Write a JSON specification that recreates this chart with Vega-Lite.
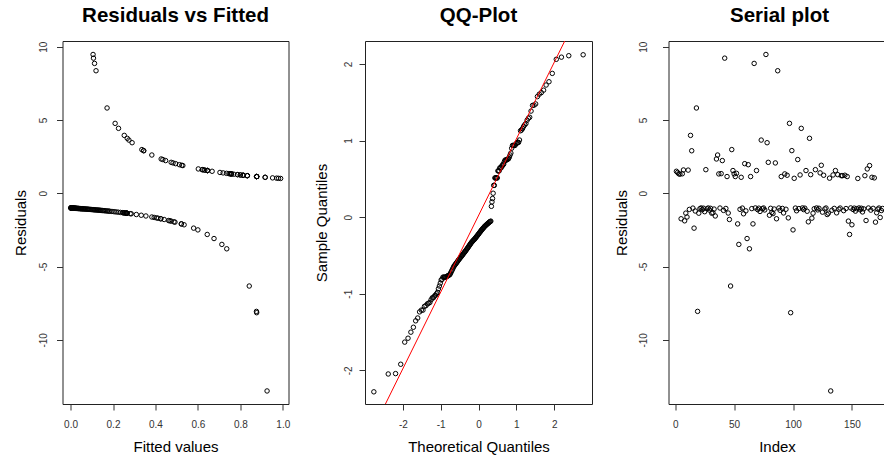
{
"$schema": "https://vega.github.io/schema/vega-lite/v6.json",
"padding": {"left": 12.5, "top": 5, "right": 0, "bottom": 0},
"background": "white",
"spacing": 76.5,
"bounds": "flush",
"config": {
  "font": "Liberation Sans",
  "view": {"stroke": "#222", "strokeWidth": 1},
  "axis": {"domain": false, "grid": false, "ticks": true, "tickSize": 6, "tickColor": "#333", "tickWidth": 1, "labelFontSize": 10, "labelColor": "#333", "titleFontSize": 15, "titleFontWeight": "normal", "titleColor": "#000", "labelFont": "Liberation Sans", "titleFont": "Liberation Sans", "labelOverlap": false, "labelFlush": false},
  "title": {"fontSize": 20.5, "fontWeight": "bold", "font": "Liberation Sans", "color": "#000", "anchor": "middle", "baseline": "alphabetic", "offset": 15, "frame": "group"}
},
"datasets": {
"res": [
{"i":1,"f":0.667,"r":1.5},{"i":2,"f":0.704,"r":1.42},{"i":3,"f":0.752,"r":1.33},{"i":4,"f":0.769,"r":1.3},{"i":5,"f":0.425,"r":-1.74},{"i":6,"f":0.752,"r":1.33},{"i":7,"f":0.629,"r":1.59},{"i":8,"f":0.468,"r":-1.88},{"i":9,"f":0.263,"r":-1.356},{"i":10,"f":0.383,"r":-1.62},
{"i":11,"f":0.633,"r":1.58},{"i":12,"f":0.093,"r":-1.102},{"i":13,"f":0.253,"r":3.95},{"i":14,"f":0.345,"r":2.9},{"i":15,"f":0.013,"r":-1.013},{"i":16,"f":0.58,"r":-2.38},{"i":17,"f":0.174,"r":-1.21},{"i":18,"f":0.172,"r":5.82},{"i":19,"f":0.876,"r":-8.06},{"i":20,"f":0.265,"r":-1.36},
{"i":21,"f":0.048,"r":-1.05},{"i":22,"f":0.002,"r":-1.002},{"i":23,"f":0.109,"r":-1.122},{"i":24,"f":0.02,"r":-1.02},{"i":25,"f":0.205,"r":-1.258},{"i":26,"f":0.621,"r":1.61},{"i":27,"f":0.058,"r":-1.062},{"i":28,"f":0.004,"r":-1.004},{"i":29,"f":0.127,"r":-1.145},{"i":30,"f":0.027,"r":-1.028},
{"i":31,"f":0.265,"r":-1.36},{"i":32,"f":0.245,"r":-1.325},{"i":33,"f":0.072,"r":-1.078},{"i":34,"f":0.355,"r":-1.55},{"i":35,"f":0.427,"r":2.34},{"i":36,"f":0.383,"r":2.61},{"i":37,"f":0.758,"r":1.32},{"i":38,"f":0.007,"r":-1.007},{"i":39,"f":0.746,"r":1.34},{"i":40,"f":0.448,"r":2.23},
{"i":41,"f":0.145,"r":-1.17},{"i":42,"f":0.108,"r":9.22},{"i":43,"f":0.036,"r":-1.037},{"i":44,"f":0.877,"r":1.14},{"i":45,"f":0.259,"r":-1.349},{"i":46,"f":0.441,"r":-1.79},{"i":47,"f":0.842,"r":-6.33},{"i":48,"f":0.336,"r":2.98},{"i":49,"f":0.645,"r":1.55},{"i":50,"f":0.758,"r":1.32},
{"i":51,"f":0.877,"r":1.14},{"i":52,"f":0.735,"r":1.36},{"i":53,"f":0.522,"r":-2.09},{"i":54,"f":0.713,"r":-3.49},{"i":55,"f":0.088,"r":-1.097},{"i":56,"f":0.917,"r":1.09},{"i":57,"f":0.012,"r":-1.012},{"i":58,"f":0.286,"r":-1.4},{"i":59,"f":0.495,"r":2.02},{"i":60,"f":0.168,"r":-1.202},
{"i":61,"f":0.676,"r":-3.09},{"i":62,"f":0.513,"r":1.95},{"i":63,"f":0.736,"r":-3.79},{"i":64,"f":0.877,"r":1.14},{"i":65,"f":0.045,"r":-1.047},{"i":66,"f":0.522,"r":-2.09},{"i":67,"f":0.113,"r":8.86},{"i":68,"f":0.002,"r":-1.002},{"i":69,"f":0.645,"r":1.55},{"i":70,"f":0.105,"r":-1.117},
{"i":71,"f":0.018,"r":-1.018},{"i":72,"f":0.195,"r":-1.242},{"i":73,"f":0.275,"r":3.63},{"i":74,"f":0.055,"r":-1.058},{"i":75,"f":0.004,"r":-1.004},{"i":76,"f":0.122,"r":-1.139},{"i":77,"f":0.106,"r":9.47},{"i":78,"f":0.29,"r":3.45},{"i":79,"f":0.474,"r":2.11},{"i":80,"f":0.333,"r":-1.5},
{"i":81,"f":0.025,"r":-1.026},{"i":82,"f":0.235,"r":-1.307},{"i":83,"f":0.281,"r":-1.39},{"i":84,"f":0.069,"r":-1.074},{"i":85,"f":0.483,"r":2.07},{"i":86,"f":0.425,"r":-1.74},{"i":87,"f":0.12,"r":8.36},{"i":88,"f":0.006,"r":-1.006},{"i":89,"f":0.14,"r":-1.163},{"i":90,"f":0.877,"r":1.14},
{"i":91,"f":0.034,"r":-1.035},{"i":92,"f":0.255,"r":-1.343},{"i":93,"f":0.758,"r":1.32},{"i":94,"f":0.084,"r":-1.092},{"i":95,"f":0.813,"r":1.23},{"i":96,"f":0.405,"r":-1.68},{"i":97,"f":0.21,"r":4.77},{"i":98,"f":0.877,"r":-8.15},{"i":99,"f":0.344,"r":2.91},{"i":100,"f":0.6,"r":-2.5},
{"i":101,"f":0.98,"r":1.02},{"i":102,"f":0.011,"r":-1.011},{"i":103,"f":0.162,"r":-1.194},{"i":104,"f":0.435,"r":2.3},{"i":105,"f":0.043,"r":-1.045},{"i":106,"f":0.8,"r":1.25},{"i":107,"f":0.226,"r":4.43},{"i":108,"f":0.002,"r":-1.002},{"i":109,"f":0.101,"r":-1.112},{"i":110,"f":0.016,"r":-1.016},
{"i":111,"f":0.645,"r":1.55},{"i":112,"f":0.185,"r":-1.227},{"i":113,"f":0.487,"r":-1.95},{"i":114,"f":0.267,"r":3.75},{"i":115,"f":0.787,"r":1.27},{"i":116,"f":0.412,"r":-1.7},{"i":117,"f":0.265,"r":-1.36},{"i":118,"f":0.052,"r":-1.055},{"i":119,"f":0.621,"r":1.61},{"i":120,"f":0.003,"r":-1.003},
{"i":121,"f":0.117,"r":-1.133},{"i":122,"f":0.023,"r":-1.024},{"i":123,"f":0.719,"r":1.39},{"i":124,"f":0.524,"r":1.91},{"i":125,"f":0.224,"r":-1.289},{"i":126,"f":0.813,"r":1.23},{"i":127,"f":0.065,"r":-1.07},{"i":128,"f":0.006,"r":-1.006},{"i":129,"f":0.31,"r":-1.45},{"i":130,"f":0.265,"r":-1.36},
{"i":131,"f":0.971,"r":1.03},{"i":132,"f":0.926,"r":-13.49},{"i":133,"f":0.136,"r":-1.157},{"i":134,"f":0.8,"r":1.25},{"i":135,"f":0.032,"r":-1.033},{"i":136,"f":0.645,"r":1.55},{"i":137,"f":0.252,"r":-1.337},{"i":138,"f":0.787,"r":1.27},{"i":139,"f":0.08,"r":-1.087},{"i":140,"f":0.009,"r":-1.009},
{"i":141,"f":0.833,"r":1.2},{"i":142,"f":0.833,"r":1.2},{"i":143,"f":0.157,"r":-1.186},{"i":144,"f":0.813,"r":1.23},{"i":145,"f":0.04,"r":-1.042},{"i":146,"f":0.877,"r":1.14},{"i":147,"f":0.474,"r":-1.9},{"i":148,"f":0.644,"r":-2.81},{"i":149,"f":0.001,"r":-1.001},{"i":150,"f":0.535,"r":-2.15},
{"i":151,"f":0.097,"r":-1.107},{"i":152,"f":0.015,"r":-1.015},{"i":153,"f":0.18,"r":-1.219},{"i":154,"f":0.049,"r":-1.052},{"i":155,"f":0.99,"r":1.01},{"i":156,"f":0.003,"r":-1.003},{"i":157,"f":0.113,"r":-1.128},{"i":158,"f":0.022,"r":-1.022},{"i":159,"f":0.214,"r":-1.273},{"i":160,"f":0.061,"r":-1.065},
{"i":161,"f":0.833,"r":1.2},{"i":162,"f":0.462,"r":-1.86},{"i":163,"f":0.602,"r":1.66},{"i":164,"f":0.005,"r":-1.005},{"i":165,"f":0.529,"r":1.89},{"i":166,"f":0.131,"r":-1.151},{"i":167,"f":0.917,"r":1.09},{"i":168,"f":0.029,"r":-1.03},{"i":169,"f":0.952,"r":1.05},{"i":170,"f":0.492,"r":-1.97},
{"i":171,"f":0.249,"r":-1.331},{"i":172,"f":0.077,"r":-1.083},{"i":173,"f":0.008,"r":-1.008},{"i":174,"f":0.394,"r":-1.65},{"i":175,"f":0.151,"r":-1.178},{"i":176,"f":0.038,"r":-1.04}
],
"qq": [
{"t":-2.766,"s":-2.281},{"t":-2.386,"s":-2.048},{"t":-2.192,"s":-2.043},{"t":-2.056,"s":-1.921},{"t":-1.95,"s":-1.632},{"t":-1.863,"s":-1.581},{"t":-1.787,"s":-1.502},{"t":-1.721,"s":-1.438},{"t":-1.661,"s":-1.354},{"t":-1.607,"s":-1.317},
{"t":-1.557,"s":-1.237},{"t":-1.511,"s":-1.214},{"t":-1.468,"s":-1.214},{"t":-1.428,"s":-1.165},{"t":-1.389,"s":-1.156},{"t":-1.353,"s":-1.133},{"t":-1.318,"s":-1.124},{"t":-1.285,"s":-1.114},{"t":-1.253,"s":-1.079},{"t":-1.222,"s":-1.053},
{"t":-1.193,"s":-1.053},{"t":-1.164,"s":-1.03},{"t":-1.137,"s":-1.019},{"t":-1.11,"s":-1.001},{"t":-1.084,"s":-0.982},{"t":-1.059,"s":-0.936},{"t":-1.034,"s":-0.9},{"t":-1.01,"s":-0.862},{"t":-0.987,"s":-0.82},{"t":-0.964,"s":-0.812},
{"t":-0.941,"s":-0.784},{"t":-0.919,"s":-0.784},{"t":-0.898,"s":-0.784},{"t":-0.876,"s":-0.784},{"t":-0.856,"s":-0.78},{"t":-0.835,"s":-0.774},{"t":-0.815,"s":-0.768},{"t":-0.796,"s":-0.762},{"t":-0.776,"s":-0.756},{"t":-0.757,"s":-0.75},
{"t":-0.738,"s":-0.732},{"t":-0.72,"s":-0.713},{"t":-0.702,"s":-0.695},{"t":-0.683,"s":-0.677},{"t":-0.666,"s":-0.658},{"t":-0.648,"s":-0.64},{"t":-0.63,"s":-0.629},{"t":-0.613,"s":-0.618},{"t":-0.596,"s":-0.606},{"t":-0.579,"s":-0.595},
{"t":-0.562,"s":-0.584},{"t":-0.546,"s":-0.572},{"t":-0.529,"s":-0.561},{"t":-0.513,"s":-0.55},{"t":-0.497,"s":-0.54},{"t":-0.481,"s":-0.53},{"t":-0.465,"s":-0.52},{"t":-0.449,"s":-0.51},{"t":-0.433,"s":-0.5},{"t":-0.418,"s":-0.49},
{"t":-0.402,"s":-0.48},{"t":-0.387,"s":-0.47},{"t":-0.371,"s":-0.46},{"t":-0.356,"s":-0.45},{"t":-0.341,"s":-0.44},{"t":-0.326,"s":-0.43},{"t":-0.311,"s":-0.42},{"t":-0.296,"s":-0.409},{"t":-0.281,"s":-0.399},{"t":-0.266,"s":-0.388},
{"t":-0.252,"s":-0.377},{"t":-0.237,"s":-0.367},{"t":-0.222,"s":-0.356},{"t":-0.208,"s":-0.346},{"t":-0.193,"s":-0.335},{"t":-0.179,"s":-0.327},{"t":-0.165,"s":-0.319},{"t":-0.15,"s":-0.311},{"t":-0.136,"s":-0.303},{"t":-0.121,"s":-0.296},
{"t":-0.107,"s":-0.288},{"t":-0.093,"s":-0.28},{"t":-0.078,"s":-0.271},{"t":-0.064,"s":-0.262},{"t":-0.05,"s":-0.253},{"t":-0.036,"s":-0.244},{"t":-0.021,"s":-0.235},{"t":-0.007,"s":-0.226},{"t":0.007,"s":-0.217},{"t":0.021,"s":-0.207},
{"t":0.036,"s":-0.198},{"t":0.05,"s":-0.189},{"t":0.064,"s":-0.179},{"t":0.078,"s":-0.17},{"t":0.093,"s":-0.162},{"t":0.107,"s":-0.153},{"t":0.121,"s":-0.145},{"t":0.136,"s":-0.137},{"t":0.15,"s":-0.128},{"t":0.165,"s":-0.12},
{"t":0.179,"s":-0.113},{"t":0.193,"s":-0.107},{"t":0.208,"s":-0.1},{"t":0.222,"s":-0.094},{"t":0.237,"s":-0.087},{"t":0.252,"s":-0.081},{"t":0.266,"s":-0.075},{"t":0.281,"s":-0.068},{"t":0.296,"s":-0.062},{"t":0.311,"s":-0.057},
{"t":0.326,"s":-0.052},{"t":0.341,"s":0.141},{"t":0.356,"s":0.199},{"t":0.371,"s":0.243},{"t":0.387,"s":0.312},{"t":0.402,"s":0.415},{"t":0.418,"s":0.415},{"t":0.433,"s":0.512},{"t":0.449,"s":0.512},{"t":0.465,"s":0.512},
{"t":0.481,"s":0.512},{"t":0.497,"s":0.512},{"t":0.513,"s":0.604},{"t":0.529,"s":0.604},{"t":0.546,"s":0.604},{"t":0.562,"s":0.643},{"t":0.579,"s":0.643},{"t":0.596,"s":0.643},{"t":0.613,"s":0.668},{"t":0.63,"s":0.668},
{"t":0.648,"s":0.691},{"t":0.666,"s":0.691},{"t":0.683,"s":0.724},{"t":0.702,"s":0.745},{"t":0.72,"s":0.745},{"t":0.738,"s":0.745},{"t":0.757,"s":0.755},{"t":0.776,"s":0.755},{"t":0.796,"s":0.765},{"t":0.815,"s":0.784},
{"t":0.835,"s":0.812},{"t":0.856,"s":0.837},{"t":0.876,"s":0.9},{"t":0.898,"s":0.936},{"t":0.919,"s":0.936},{"t":0.941,"s":0.936},{"t":0.964,"s":0.936},{"t":0.987,"s":0.956},{"t":1.01,"s":0.963},{"t":1.034,"s":0.976},
{"t":1.059,"s":0.976},{"t":1.084,"s":1.007},{"t":1.11,"s":1.128},{"t":1.137,"s":1.138},{"t":1.164,"s":1.156},{"t":1.193,"s":1.186},{"t":1.222,"s":1.206},{"t":1.253,"s":1.222},{"t":1.285,"s":1.266},{"t":1.318,"s":1.291},
{"t":1.353,"s":1.304},{"t":1.389,"s":1.385},{"t":1.428,"s":1.459},{"t":1.468,"s":1.462},{"t":1.511,"s":1.478},{"t":1.557,"s":1.574},{"t":1.607,"s":1.606},{"t":1.661,"s":1.626},{"t":1.721,"s":1.658},{"t":1.787,"s":1.725},
{"t":1.863,"s":1.768},{"t":1.95,"s":1.877},{"t":2.056,"s":2.061},{"t":2.192,"s":2.089},{"t":2.386,"s":2.108},{"t":2.766,"s":2.12}
],
"qline": [{"t":-3,"s":-2.98},{"t":3,"s":3.02}]
},
"hconcat": [
{
  "width": 226, "height": 363,
  "title": {"text": "Residuals vs Fitted"},
  "data": {"name": "res"},
  "mark": {"type": "point", "shape": "circle", "filled": false, "color": "#000", "size": 20, "strokeWidth": 1, "opacity": 1},
  "encoding": {
    "x": {"field": "f", "type": "quantitative", "scale": {"domain": [-0.038, 1.027], "nice": false, "zero": false},
          "axis": {"title": "Fitted values", "values": [0, 0.2, 0.4, 0.6, 0.8, 1.0], "format": ".1f", "labelPadding": 9.5, "titleY": 47.5, "titleBaseline": "alphabetic"}},
    "y": {"field": "r", "type": "quantitative", "scale": {"domain": [-14.38, 10.39], "nice": false, "zero": false},
          "axis": {"title": "Residuals", "values": [-10, -5, 0, 5, 10], "format": ".0f", "labelExpr": "replace(datum.label, '\u2212', '-')", "labelAngle": 270, "labelAlign": "center", "labelBaseline": "alphabetic", "labelPadding": 10, "titleAngle": 270, "titleX": -37, "titleBaseline": "alphabetic"}}
  }
},
{
  "width": 227, "height": 363,
  "title": {"text": "QQ-Plot"},
  "layer": [
    {
      "data": {"name": "qq"},
      "mark": {"type": "point", "shape": "circle", "filled": false, "color": "#000", "size": 20, "strokeWidth": 1, "opacity": 1},
      "encoding": {
        "x": {"field": "t", "type": "quantitative", "scale": {"domain": [-3, 3], "nice": false, "zero": false},
              "axis": {"title": "Theoretical Quantiles", "values": [-2, -1, 0, 1, 2], "format": ".0f", "labelExpr": "replace(datum.label, '\u2212', '-')", "labelPadding": 9.5, "titleY": 47.5, "titleBaseline": "alphabetic"}},
        "y": {"field": "s", "type": "quantitative", "scale": {"domain": [-2.44, 2.3], "nice": false, "zero": false},
              "axis": {"title": "Sample Quantiles", "values": [-2, -1, 0, 1, 2], "format": ".0f", "labelExpr": "replace(datum.label, '\u2212', '-')", "labelAngle": 270, "labelAlign": "center", "labelBaseline": "alphabetic", "labelPadding": 8, "titleAngle": 270, "titleX": -39, "titleBaseline": "alphabetic"}}
      }
    },
    {
      "data": {"name": "qline"},
      "mark": {"type": "line", "color": "#ff0000", "strokeWidth": 1, "clip": true},
      "encoding": {
        "x": {"field": "t", "type": "quantitative"},
        "y": {"field": "s", "type": "quantitative"}
      }
    }
  ]
},
{
  "width": 217, "height": 363,
  "title": {"text": "Serial plot", "dx": 2.5},
  "data": {"name": "res"},
  "mark": {"type": "point", "shape": "circle", "filled": false, "color": "#000", "size": 20, "strokeWidth": 1, "opacity": 1},
  "encoding": {
    "x": {"field": "i", "type": "quantitative", "scale": {"domain": [-5.7, 178.5], "nice": false, "zero": false},
          "axis": {"title": "Index", "values": [0, 50, 100, 150], "format": ".0f", "labelPadding": 9.5, "titleY": 47.5, "titleBaseline": "alphabetic"}},
    "y": {"field": "r", "type": "quantitative", "scale": {"domain": [-14.38, 10.39], "nice": false, "zero": false},
          "axis": {"title": "Residuals", "values": [-10, -5, 0, 5, 10], "format": ".0f", "labelExpr": "replace(datum.label, '\u2212', '-')", "labelAngle": 270, "labelAlign": "center", "labelBaseline": "alphabetic", "labelPadding": 16, "titleAngle": 270, "titleX": -42, "titleBaseline": "alphabetic"}}
  }
}
]
}
